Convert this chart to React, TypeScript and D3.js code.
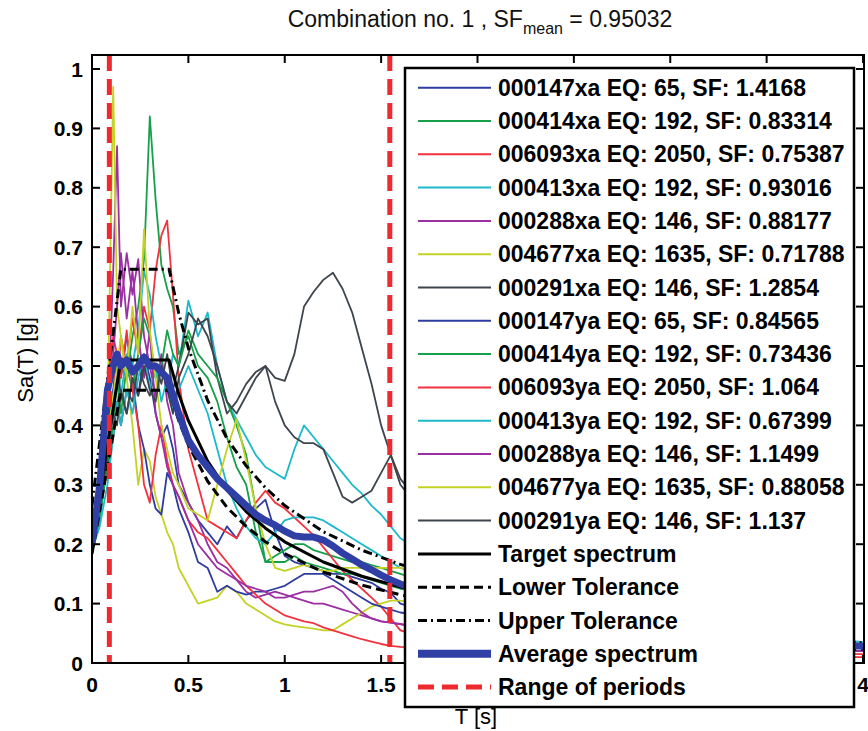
import React from 'react';
import * as d3 from 'd3';

// ---------------- DATA ----------------
const PERIODS = [
  0, 0.04, 0.08, 0.11, 0.13, 0.15,
  0.18, 0.21, 0.24, 0.27, 0.30,
  0.33, 0.36, 0.39, 0.42, 0.45,
  0.50, 0.55, 0.60, 0.65, 0.70,
  0.75, 0.80, 0.85, 0.90, 0.95,
  1.00, 1.05, 1.10, 1.15, 1.20,
  1.25, 1.30, 1.35, 1.40, 1.45,
  1.50, 1.55, 1.60, 1.70, 2.00,
  3.00, 4.00,
];

const REC_000147XA = [0.21, 0.27, 0.40, 0.46, 0.52, 0.48, 0.55, 0.50, 0.45, 0.52, 0.48, 0.42, 0.38, 0.40, 0.36, 0.30, 0.27, 0.24, 0.22, 0.20, 0.23, 0.21, 0.24, 0.26, 0.275, 0.22, 0.18, 0.17, 0.165, 0.16, 0.155, 0.15, 0.15, 0.145, 0.14, 0.135, 0.125, 0.118, 0.10, 0.09, 0.07, 0.04, 0.025];
const REC_000414XA = [0.20, 0.26, 0.38, 0.45, 0.42, 0.50, 0.48, 0.55, 0.60, 0.68, 0.92, 0.78, 0.67, 0.63, 0.60, 0.52, 0.55, 0.50, 0.48, 0.44, 0.38, 0.33, 0.30, 0.22, 0.17, 0.18, 0.19, 0.20, 0.20, 0.19, 0.185, 0.18, 0.175, 0.17, 0.17, 0.165, 0.16, 0.155, 0.15, 0.14, 0.11, 0.05, 0.03];
const REC_006093XA = [0.22, 0.30, 0.42, 0.50, 0.46, 0.55, 0.50, 0.58, 0.52, 0.60, 0.56, 0.66, 0.72, 0.745, 0.62, 0.48, 0.36, 0.30, 0.24, 0.23, 0.22, 0.21, 0.24, 0.27, 0.29, 0.27, 0.26, 0.245, 0.23, 0.215, 0.195, 0.175, 0.155, 0.14, 0.125, 0.11, 0.095, 0.075, 0.055, 0.045, 0.035, 0.02, 0.015];
const REC_000413XA = [0.20, 0.25, 0.36, 0.42, 0.48, 0.45, 0.52, 0.50, 0.56, 0.66, 0.62, 0.55, 0.50, 0.46, 0.52, 0.50, 0.61, 0.55, 0.59, 0.50, 0.44, 0.41, 0.38, 0.35, 0.33, 0.32, 0.31, 0.36, 0.40, 0.38, 0.36, 0.34, 0.32, 0.30, 0.285, 0.265, 0.25, 0.23, 0.21, 0.19, 0.15, 0.07, 0.035];
const REC_000288XA = [0.20, 0.26, 0.40, 0.66, 0.87, 0.60, 0.69, 0.62, 0.68, 0.55, 0.50, 0.45, 0.52, 0.44, 0.40, 0.32, 0.27, 0.24, 0.20, 0.17, 0.16, 0.14, 0.12, 0.11, 0.115, 0.12, 0.115, 0.11, 0.105, 0.10, 0.10, 0.095, 0.09, 0.085, 0.08, 0.075, 0.07, 0.068, 0.066, 0.06, 0.05, 0.03, 0.02];
const REC_004677XA = [0.19, 0.24, 0.40, 0.97, 0.60, 0.55, 0.48, 0.40, 0.30, 0.36, 0.34, 0.28, 0.25, 0.22, 0.20, 0.16, 0.13, 0.10, 0.105, 0.11, 0.13, 0.12, 0.10, 0.09, 0.08, 0.07, 0.065, 0.062, 0.06, 0.058, 0.055, 0.055, 0.065, 0.075, 0.085, 0.095, 0.10, 0.105, 0.105, 0.10, 0.08, 0.04, 0.025];
const REC_000291XA = [0.20, 0.25, 0.33, 0.38, 0.44, 0.40, 0.46, 0.44, 0.50, 0.47, 0.45, 0.50, 0.47, 0.52, 0.46, 0.50, 0.59, 0.57, 0.58, 0.48, 0.42, 0.44, 0.47, 0.49, 0.50, 0.48, 0.475, 0.52, 0.60, 0.625, 0.645, 0.657, 0.63, 0.59, 0.53, 0.47, 0.40, 0.35, 0.31, 0.27, 0.20, 0.07, 0.03];
const REC_000147YA = [0.20, 0.25, 0.36, 0.44, 0.50, 0.45, 0.42, 0.48, 0.40, 0.36, 0.30, 0.26, 0.25, 0.32, 0.30, 0.26, 0.22, 0.17, 0.16, 0.12, 0.13, 0.12, 0.115, 0.12, 0.12, 0.125, 0.13, 0.14, 0.15, 0.15, 0.15, 0.14, 0.13, 0.12, 0.11, 0.10, 0.095, 0.09, 0.085, 0.08, 0.06, 0.035, 0.02];
const REC_000414YA = [0.19, 0.24, 0.34, 0.40, 0.48, 0.42, 0.50, 0.46, 0.52, 0.58, 0.55, 0.48, 0.50, 0.56, 0.52, 0.50, 0.56, 0.52, 0.50, 0.48, 0.44, 0.40, 0.35, 0.26, 0.17, 0.17, 0.17, 0.18, 0.17, 0.165, 0.16, 0.155, 0.15, 0.15, 0.145, 0.14, 0.135, 0.13, 0.125, 0.12, 0.09, 0.045, 0.025];
const REC_006093YA = [0.21, 0.28, 0.46, 0.55, 0.52, 0.48, 0.56, 0.46, 0.40, 0.30, 0.27, 0.35, 0.40, 0.34, 0.30, 0.28, 0.24, 0.22, 0.21, 0.19, 0.17, 0.15, 0.13, 0.115, 0.10, 0.09, 0.08, 0.075, 0.07, 0.067, 0.06, 0.055, 0.05, 0.045, 0.04, 0.036, 0.032, 0.029, 0.027, 0.025, 0.02, 0.012, 0.01];
const REC_000413YA = [0.19, 0.23, 0.30, 0.38, 0.44, 0.40, 0.46, 0.42, 0.48, 0.52, 0.46, 0.50, 0.44, 0.48, 0.42, 0.46, 0.50, 0.46, 0.42, 0.36, 0.30, 0.26, 0.23, 0.21, 0.20, 0.22, 0.24, 0.245, 0.245, 0.245, 0.24, 0.23, 0.22, 0.21, 0.20, 0.19, 0.18, 0.17, 0.16, 0.15, 0.12, 0.06, 0.03];
const REC_000288YA = [0.21, 0.27, 0.42, 0.52, 0.60, 0.69, 0.58, 0.66, 0.55, 0.48, 0.56, 0.42, 0.38, 0.33, 0.30, 0.28, 0.24, 0.20, 0.18, 0.16, 0.15, 0.14, 0.13, 0.125, 0.12, 0.11, 0.11, 0.115, 0.12, 0.12, 0.125, 0.13, 0.12, 0.10, 0.085, 0.075, 0.07, 0.068, 0.065, 0.06, 0.05, 0.03, 0.02];
const REC_004677YA = [0.20, 0.26, 0.38, 0.45, 0.50, 0.55, 0.48, 0.60, 0.52, 0.73, 0.56, 0.48, 0.40, 0.36, 0.32, 0.30, 0.26, 0.25, 0.24, 0.30, 0.36, 0.41, 0.34, 0.26, 0.20, 0.16, 0.155, 0.16, 0.165, 0.16, 0.155, 0.155, 0.16, 0.16, 0.16, 0.16, 0.16, 0.16, 0.16, 0.15, 0.12, 0.06, 0.03];
const REC_000291YA = [0.21, 0.26, 0.35, 0.42, 0.40, 0.46, 0.42, 0.48, 0.45, 0.50, 0.46, 0.44, 0.50, 0.46, 0.42, 0.48, 0.52, 0.58, 0.55, 0.50, 0.44, 0.42, 0.45, 0.48, 0.50, 0.44, 0.40, 0.38, 0.37, 0.37, 0.36, 0.32, 0.28, 0.27, 0.28, 0.29, 0.32, 0.35, 0.30, 0.26, 0.18, 0.06, 0.03];

const AVERAGE_SPECTRUM = [0.20, 0.30, 0.46, 0.50, 0.52, 0.50, 0.51, 0.49, 0.50, 0.515, 0.50, 0.50, 0.49, 0.48, 0.45, 0.42, 0.375, 0.35, 0.33, 0.31, 0.295, 0.28, 0.265, 0.25, 0.24, 0.232, 0.222, 0.214, 0.212, 0.212, 0.207, 0.197, 0.185, 0.175, 0.165, 0.157, 0.148, 0.14, 0.133, 0.122, 0.10, 0.045, 0.028];

const TARGET_PERIODS = [0, 0.05, 0.10, 0.15, 0.40, 0.45, 0.50, 0.60, 0.70, 0.80, 0.90, 1.00, 1.20, 1.40, 1.60, 1.80, 2.00, 2.50, 3.00, 3.50, 4.00];
const TARGET_SPECTRUM = [0.204, 0.306, 0.408, 0.51, 0.51, 0.453, 0.408, 0.34, 0.291, 0.255, 0.227, 0.204, 0.17, 0.146, 0.128, 0.113, 0.102, 0.065, 0.045, 0.033, 0.026];
const LOWER_TOLERANCE = [0.184, 0.275, 0.367, 0.459, 0.459, 0.408, 0.367, 0.306, 0.262, 0.230, 0.204, 0.184, 0.153, 0.131, 0.115, 0.102, 0.092, 0.059, 0.041, 0.030, 0.023];
const UPPER_TOLERANCE = [0.265, 0.398, 0.530, 0.663, 0.663, 0.589, 0.530, 0.442, 0.378, 0.332, 0.295, 0.265, 0.221, 0.190, 0.166, 0.147, 0.133, 0.085, 0.059, 0.043, 0.034];

const RANGE_OF_PERIODS = [0.09, 1.545];

const RECORD_LABELS = [
  '000147xa EQ: 65, SF: 1.4168',
  '000414xa EQ: 192, SF: 0.83314',
  '006093xa EQ: 2050, SF: 0.75387',
  '000413xa EQ: 192, SF: 0.93016',
  '000288xa EQ: 146, SF: 0.88177',
  '004677xa EQ: 1635, SF: 0.71788',
  '000291xa EQ: 146, SF: 1.2854',
  '000147ya EQ: 65, SF: 0.84565',
  '000414ya EQ: 192, SF: 0.73436',
  '006093ya EQ: 2050, SF: 1.064',
  '000413ya EQ: 192, SF: 0.67399',
  '000288ya EQ: 146, SF: 1.1499',
  '004677ya EQ: 1635, SF: 0.88058',
  '000291ya EQ: 146, SF: 1.137',
];
const RECORD_VALUES = [
  REC_000147XA, REC_000414XA, REC_006093XA, REC_000413XA, REC_000288XA, REC_004677XA, REC_000291XA,
  REC_000147YA, REC_000414YA, REC_006093YA, REC_000413YA, REC_000288YA, REC_004677YA, REC_000291YA,
];
const EXTRA_LABELS = ['Target spectrum', 'Lower Tolerance', 'Upper Tolerance', 'Average spectrum', 'Range of periods'];

const X_TICKS = [0, 0.5, 1, 1.5, 2, 2.5, 3, 3.5, 4];
const X_TICK_LABELS = ['0', '0.5', '1', '1.5', '2', '2.5', '3', '3.5', '4'];
const Y_TICKS = [0, 0.1, 0.2, 0.3, 0.4, 0.5, 0.6, 0.7, 0.8, 0.9, 1];
const Y_TICK_LABELS = ['0', '0.1', '0.2', '0.3', '0.4', '0.5', '0.6', '0.7', '0.8', '0.9', '1'];

// ---------------- STYLE ----------------
const CYCLE = ['#2E3C9F', '#17A04A', '#F2333F', '#1EB9C9', '#9B2FA3', '#C3D225', '#3E454C'];
const FONT = '"Liberation Sans", Arial, sans-serif';
const W = 868;
const H = 731;
const M = { left: 92, right: 864, top: 55, bottom: 663 };

export default function App() {
  const x = d3.scaleLinear().domain([0, 4]).range([M.left, M.left + 4 * 192.75]);
  const y = d3.scaleLinear().domain([0, 1]).range([M.bottom, M.bottom - 594]);

  const recLine = d3.line<number>().x((_, i) => x(PERIODS[i])).y((d) => y(d));
  const tgtLine = d3.line<number>().x((_, i) => x(TARGET_PERIODS[i])).y((d) => y(d));

  const legendX = 405;
  const legendY = 68;
  const legendW = 449;
  const legendH = 639;
  const rowY = (i: number) => 87.7 + i * 33.3;
  const sampleX0 = 418;
  const sampleX1 = 491;
  const textX = 498;

  const allLabels = [...RECORD_LABELS, ...EXTRA_LABELS];
  const nRec = RECORD_LABELS.length;

  // tick labels that the legend box covers are not drawn (hidden in the reference)
  const labelVisible = (px: number) => px < legendX - 14 || px > legendX + legendW + 4;

  const extraStyle = (k: number) => {
    switch (k) {
      case 0: return { stroke: '#000', width: 3, dash: undefined as string | undefined };
      case 1: return { stroke: '#000', width: 3, dash: '9 5' };
      case 2: return { stroke: '#000', width: 3, dash: '9 4 2 4' };
      case 3: return { stroke: '#2F3FA5', width: 8, dash: undefined };
      default: return { stroke: '#EE2A2E', width: 5, dash: '16 8' };
    }
  };

  return (
    <svg width={W} height={H} style={{ position: 'absolute', left: 0, top: 0, background: '#fff' }} fontFamily={FONT}>
      <defs>
        <clipPath id="plotClip">
          <rect x={M.left} y={M.top} width={M.right - M.left} height={M.bottom - M.top} />
        </clipPath>
      </defs>
      <rect x={0} y={0} width={W} height={H} fill="#fff" />

      {/* title */}
      <text x={480} y={27} textAnchor="middle" fontSize={23} fill="#111">
        <tspan>Combination no. 1 , SF</tspan>
        <tspan fontSize={16} dy={7}>mean</tspan>
        <tspan dy={-7}> = 0.95032</tspan>
      </text>

      {/* plot lines */}
      <g clipPath="url(#plotClip)" fill="none" strokeLinejoin="round">
        {RECORD_VALUES.map((vals, i) => (
          <path key={i} d={recLine(vals) || ''} stroke={CYCLE[i % 7]} strokeWidth={1.8} />
        ))}
        <path d={tgtLine(TARGET_SPECTRUM) || ''} stroke="#000" strokeWidth={3} />
        <path d={tgtLine(LOWER_TOLERANCE) || ''} stroke="#000" strokeWidth={3} strokeDasharray="9 5" />
        <path d={tgtLine(UPPER_TOLERANCE) || ''} stroke="#000" strokeWidth={3} strokeDasharray="9 4 2 4" />
        <path d={recLine(AVERAGE_SPECTRUM) || ''} stroke="#2F3FA5" strokeWidth={7} />
        {RANGE_OF_PERIODS.map((t, i) => (
          <line key={i} x1={x(t)} x2={x(t)} y1={M.top} y2={M.bottom} stroke="#EE2A2E" strokeWidth={5} strokeDasharray="16 8" />
        ))}
      </g>

      {/* axes box */}
      <rect x={M.left} y={M.top} width={M.right - M.left} height={M.bottom - M.top} fill="none" stroke="#000" strokeWidth={2} />
      {X_TICKS.map((t, i) => (
        <g key={'xt' + i}>
          <line x1={x(t)} x2={x(t)} y1={M.bottom} y2={M.bottom - 8} stroke="#000" strokeWidth={2} />
          <line x1={x(t)} x2={x(t)} y1={M.top} y2={M.top + 8} stroke="#000" strokeWidth={2} />
          {labelVisible(x(t)) && (
            <text x={x(t)} y={692} textAnchor="middle" fontSize={21} fontWeight="bold" fill="#000">{X_TICK_LABELS[i]}</text>
          )}
        </g>
      ))}
      {Y_TICKS.map((t, i) => (
        <g key={'yt' + i}>
          <line x1={M.left} x2={M.left + 8} y1={y(t)} y2={y(t)} stroke="#000" strokeWidth={2} />
          <line x1={M.right} x2={M.right - 8} y1={y(t)} y2={y(t)} stroke="#000" strokeWidth={2} />
          <text x={83} y={y(t) + 7.5} textAnchor="end" fontSize={21} fontWeight="bold" fill="#000">{Y_TICK_LABELS[i]}</text>
        </g>
      ))}

      {/* axis labels */}
      <text transform={`translate(33,360) rotate(-90)`} textAnchor="middle" fontSize={22} fill="#000">Sa(T) [g]</text>
      <text x={476} y={724} textAnchor="middle" fontSize={22} fill="#000">T [s]</text>

      {/* legend */}
      <rect x={legendX} y={legendY} width={legendW} height={legendH} fill="#fff" stroke="#000" strokeWidth={2.5} />
      {allLabels.map((lab, i) => {
        const yy = rowY(i);
        let st;
        if (i < nRec) st = { stroke: CYCLE[i % 7], width: 2, dash: undefined as string | undefined };
        else st = extraStyle(i - nRec);
        return (
          <g key={'lg' + i}>
            <line x1={sampleX0} x2={sampleX1} y1={yy} y2={yy} stroke={st.stroke} strokeWidth={st.width} strokeDasharray={st.dash} />
            <text x={textX} y={yy + 8} fontSize={23} fontWeight="bold" fill="#000">{lab}</text>
          </g>
        );
      })}
    </svg>
  );
}
